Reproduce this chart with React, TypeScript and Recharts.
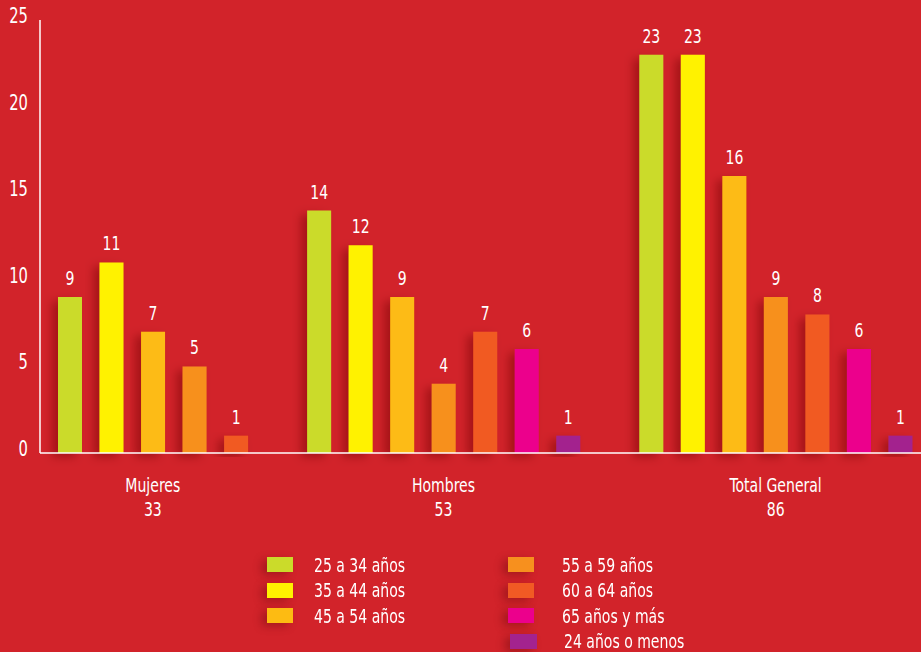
import { BarChart, Bar, XAxis, YAxis, Cell, LabelList } from 'recharts'

const groups = ['Mujeres', 'Hombres', 'Total General']
const groupTotals = [33, 53, 86]
const ageBands = [
  '25 a 34 años', '35 a 44 años', '45 a 54 años', '55 a 59 años',
  '60 a 64 años', '65 años y más', '24 años o menos',
]
const bandColors = ['#cbdb2a', '#fff200', '#fdbb12', '#f7901e', '#f15a24', '#ec008c', '#a3238e']
const mujeres = [9, 11, 7, 5, 1, null, null]
const hombres = [14, 12, 9, 4, 7, 6, 1]
const totalGeneral = [23, 23, 16, 9, 8, 6, 1]
const yTicks = [0, 5, 10, 15, 20, 25]

const BG = '#d2232a'
const FONT = '"DejaVu Sans Condensed", "Liberation Sans Narrow", sans-serif'
const SQUEEZE = 0.78

type Row = { key: string; value: number | null; band: number; label?: string; total?: number }

// one row per drawn bar, with an empty row between groups
const rows: Row[] = []
;[mujeres, hombres, totalGeneral].forEach((vals, g) => {
  if (g > 0) rows.push({ key: `gap${g}`, value: null, band: -1 })
  const present = vals.map((v, i) => ({ v, i })).filter(d => d.v != null)
  const mid = Math.floor(present.length / 2)
  present.forEach((d, j) => {
    rows.push({
      key: `${groups[g]}-${d.i}`,
      value: d.v,
      band: d.i,
      label: j === mid ? groups[g] : undefined,
      total: j === mid ? groupTotals[g] : undefined,
    })
  })
})

// narrow text: the original uses a condensed face we don't have
function NarrowText({ x, y, anchor = 'middle', size, children }: any) {
  return (
    <text
      transform={`translate(${x},${y}) scale(${SQUEEZE},1)`}
      textAnchor={anchor}
      fill="#fff"
      fontFamily={FONT}
      fontSize={size}
    >
      {children}
    </text>
  )
}

function GroupTick({ x, y, payload }: any) {
  const row = rows.find(r => r.key === payload.value)
  if (!row || !row.label) return null
  return (
    <g>
      <NarrowText x={x} y={y + 37} size={20}>{row.label}</NarrowText>
      <NarrowText x={x} y={y + 61} size={20}>{row.total}</NarrowText>
    </g>
  )
}

function ValueTick({ x, y, payload }: any) {
  return <NarrowText x={x} y={y + 3} anchor="end" size={21}>{payload.value}</NarrowText>
}

function BarValue({ x, y, width, value }: any) {
  if (value == null) return null
  return <NarrowText x={x + width / 2} y={y - 12} size={20}>{value}</NarrowText>
}

function Legend() {
  const cols = [[0, 1, 2], [3, 4, 5, 6]]
  const gaps = [21, 28]
  return (
    <div style={{ position: 'absolute', left: 267, top: 552, display: 'flex', fontFamily: FONT }}>
      {cols.map((c, ci) => (
        <div key={ci} style={{ width: 241 }}>
          {c.map(i => (
            <div key={i} style={{ display: 'flex', alignItems: 'center', height: 25.5 }}>
              <span style={{
                width: i === 6 ? 27 : 26, height: 15, background: bandColors[i],
                marginRight: i === 6 ? gaps[ci] - 1 : gaps[ci], marginLeft: i === 6 ? 2 : 0,
                boxShadow: '-5px 3px 8px rgba(110,10,15,0.45)', flex: 'none',
              }} />
              <span style={{
                color: '#fff', fontSize: 20, whiteSpace: 'nowrap',
                display: 'inline-block', transform: `scaleX(${SQUEEZE})`, transformOrigin: 'left center',
              }}>
                {ageBands[i]}
              </span>
            </div>
          ))}
        </div>
      ))}
    </div>
  )
}

export default function App() {
  return (
    <div style={{ position: 'fixed', left: 0, top: 0, width: 921, height: 652, background: BG, overflow: 'hidden' }}>
      <BarChart width={921} height={530} data={rows} margin={{ top: 20, right: 0, bottom: 7, left: 0 }}>
        <defs>
          <filter id="barShadow" x="-60%" y="-20%" width="200%" height="140%">
            <feDropShadow dx={-6} dy={4} stdDeviation={5} floodColor="#6e0a0f" floodOpacity={0.45} />
          </filter>
        </defs>
        <XAxis
          dataKey="key"
          interval={0}
          height={70}
          padding={{ left: 9, right: 0 }}
          axisLine={{ stroke: '#fff', strokeWidth: 1.5 }}
          tickLine={false}
          tickSize={0}
          tick={<GroupTick />}
        />
        <YAxis
          domain={[0, 25]}
          ticks={yTicks}
          width={40}
          axisLine={{ stroke: '#fff', strokeWidth: 1.5 }}
          tickLine={false}
          tickSize={0}
          tickMargin={12}
          tick={<ValueTick />}
        />
        <Bar dataKey="value" barSize={24} isAnimationActive={false} filter="url(#barShadow)">
          {rows.map(r => (
            <Cell key={r.key} fill={r.band >= 0 ? bandColors[r.band] : 'none'} />
          ))}
          <LabelList dataKey="value" content={<BarValue />} />
        </Bar>
      </BarChart>
      <Legend />
    </div>
  )
}
